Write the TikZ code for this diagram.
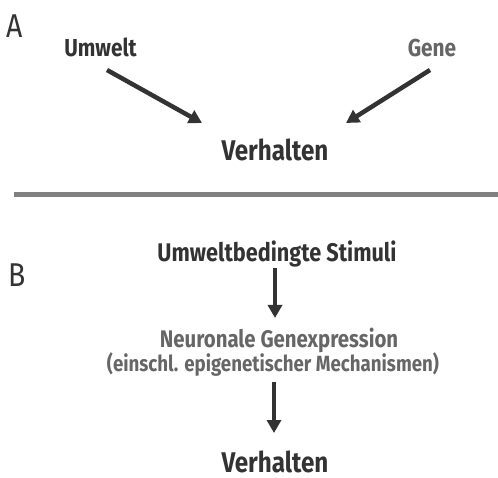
\documentclass[tikz,border=0pt]{standalone}
\usepackage{fontspec}
\usetikzlibrary{arrows.meta}
\setmainfont{Fira Sans}
\newfontfamily\medfont{Fira Sans Bold}[FakeStretch=0.85]
\newfontfamily\lightfont{Fira Sans}[FakeStretch=0.86]
\definecolor{dark}{HTML}{333333}
\definecolor{mid}{HTML}{666666}
\definecolor{rule}{HTML}{808080}
\tikzset{
  lbl/.style={inner sep=0pt, anchor=base, text=dark, font=\medfont\fontsize{24.5}{28}\selectfont},
  big/.style={lbl, font=\medfont\fontsize{28.5}{32}\selectfont},
  sub/.style={lbl, font=\medfont\fontsize{22}{26}\selectfont},
  letter/.style={inner sep=0pt, anchor=base west, text=dark, font=\lightfont\fontsize{33}{36}\selectfont},
  arr/.style={draw=dark, line width=4.5pt, -{Triangle[length=13pt,width=14pt]}},
}
\begin{document}
\begin{tikzpicture}[x=1pt,y=-1pt]
\useasboundingbox (0,0) rectangle (498,478);
% Part A
\node[letter] (la) at (6,38) {A};
\node[lbl] (umwelt) at (100.5,57) {Umwelt};
\node[lbl, text=mid] (gene) at (432,57) {Gene};
\node[big] (verhA) at (275,161) {Verhalten};
\coordinate (a1s) at (107,70);
\coordinate (a1e) at (202,123);
\coordinate (a2s) at (430,70);
\coordinate (a2e) at (346,123);
\draw[arr] (a1s) -- (a1e);
\draw[arr] (a2s) -- (a2e);
% separator
\coordinate (sepl) at (14,194.5);
\coordinate (sepr) at (498,194.5);
\draw[draw=rule, line width=4.5pt] (sepl) -- (sepr);
% Part B
\node[letter] (lb) at (8,287) {B};
\node[lbl, font=\medfont\fontsize{25.5}{28}\selectfont] (stim) at (277,262) {Umweltbedingte Stimuli};
\node[lbl, text=mid, font=\medfont\fontsize{24}{28}\selectfont] (neuro) at (279,347) {Neuronale Genexpression};
\node[sub, text=mid] (epi) at (273,371) {(einschl. epigenetischer Mechanismen)};
\node[big] (verhB) at (275,472.5) {Verhalten};
\coordinate (b1s) at (275,268);
\coordinate (b1e) at (275,318);
\coordinate (b2s) at (274,382);
\coordinate (b2e) at (274,433);
\draw[arr] (b1s) -- (b1e);
\draw[arr] (b2s) -- (b2e);
\end{tikzpicture}
\end{document}
